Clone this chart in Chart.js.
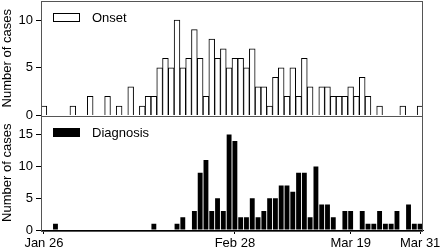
<!DOCTYPE html>
<html lang="en">
<head>
<meta charset="UTF-8">
<title>Onset and diagnosis</title>
<script src="https://cdn.jsdelivr.net/npm/chart.js"></script>
<style>
  html, body { margin: 0; padding: 0; overflow: hidden; background: #fff; }
  #wrap { width: 460px; height: 250px; }
</style>
</head>
<body>
<div id="wrap"><canvas id="chart"></canvas></div>
<script>
// one category per day, Jan 26 .. Mar 31 (Feb has 29 days here)
const months = [['Jan', 26, 31], ['Feb', 1, 29], ['Mar', 1, 31]];
const days = [];
months.forEach(([m, from, to]) => {
    for (let d = from; d <= to; d++) days.push(m + ' ' + d);
});

const tickLabels = ['Jan 26', 'Feb 28', 'Mar 19', 'Mar 31'];

const onset = [1,0,0,0,0,1,0,0,2,0, 0,2,0,1,0,3,0,1,2,2,
               5,6,5,10,5,6,9,6,2,8, 6,7,5,6,6,5,7,3,3,1,
               4,5,2,5,2,6,3,0,3,3, 2,2,2,3,2,4,2,0,1,0,
               0,0,1,0,0,1];
const diagnosis = [0,0,1,0,0,0,0,0,0,0, 0,0,0,0,0,0,0,0,0,1,
                   0,0,0,1,2,0,3,9,11,3, 5,3,15,14,2,2,5,2,3,5,
                   5,7,7,6,9,9,2,10,4,4, 2,0,3,3,0,3,1,1,3,1,
                   1,3,0,4,1,1];

Chart.defaults.font.family = "'Liberation Sans', Arial, sans-serif";
Chart.defaults.font.size = 13;
Chart.defaults.color = '#000';

// frames round each panel + the little in-panel legends
const panelFrame = {
    id: 'panelFrame',
    afterDatasetsDraw(chart) {
        const {ctx, chartArea} = chart;
        ctx.save();
        ctx.strokeStyle = '#555';
        ctx.lineWidth = 1;
        ['yTop', 'yBottom'].forEach(id => {
            const s = chart.scales[id];
            ctx.strokeRect(Math.round(chartArea.left) + 0.5, Math.round(s.top) + 0.5,
                Math.round(chartArea.right - chartArea.left) - 1, Math.round(s.bottom - s.top));
        });
        chart.data.datasets.forEach(ds => {
            const s = chart.scales[ds.yAxisID];
            const x = Math.round(chartArea.left) + 12;
            const y = Math.round(s.top) + 12;
            ctx.fillStyle = ds.backgroundColor;
            ctx.fillRect(x, y, 27, 9);
            ctx.strokeStyle = '#000';
            ctx.strokeRect(x + 0.5, y + 0.5, 26, 8);
            ctx.fillStyle = '#000';
            ctx.font = "13px 'Liberation Sans', Arial, sans-serif";
            ctx.textBaseline = 'middle';
            ctx.fillText(ds.label, x + 39, y + 5);
        });
        ctx.restore();
    }
};

const yAxis = max => ({
    type: 'linear',
    position: 'left',
    stack: 'panels',
    stackWeight: 1,
    min: 0,
    max: max,
    ticks: { stepSize: 5, includeBounds: false, padding: 3 },
    grid: { drawOnChartArea: false, tickLength: 5, tickColor: '#000' },
    border: { color: '#000' },
    title: { display: true, text: 'Number of cases', padding: { top: 0, bottom: 0 } },
    afterFit: s => { s.width = 41; s.paddingTop = 0; s.paddingBottom = 0; }
});

new Chart('chart', {
    type: 'bar',
    data: {
        labels: days,
        datasets: [{
            label: 'Onset',
            data: onset,
            yAxisID: 'yTop',
            backgroundColor: '#fff',
            borderColor: '#000',
            borderWidth: 1,
            grouped: false,
            barPercentage: 1,
            categoryPercentage: 1
        }, {
            label: 'Diagnosis',
            data: diagnosis,
            yAxisID: 'yBottom',
            backgroundColor: '#000',
            grouped: false,
            barPercentage: 0.84,
            categoryPercentage: 1
        }]
    },
    options: {
        responsive: true,
        maintainAspectRatio: false,
        animation: false,
        layout: { padding: { top: 1, right: 37, left: 0, bottom: 0 } },
        plugins: { legend: { display: false }, tooltip: { enabled: false } },
        scales: {
            x: {
                grid: {
                    offset: false,
                    drawOnChartArea: false,
                    tickLength: 4,
                    tickColor: ctx => tickLabels.includes(days[ctx.index]) ? '#000' : 'rgba(0,0,0,0)'
                },
                border: { color: '#000' },
                ticks: {
                    autoSkip: false,
                    maxRotation: 0,
                    padding: 2,
                    callback: (v, i) => tickLabels.includes(days[i]) ? days[i] : ''
                },
                afterFit: s => { s.height = 20; s.paddingLeft = 0; s.paddingRight = 0; }
            },
            // stacked axes are placed bottom-up in definition order
            yBottom: yAxis(18),
            yTop: yAxis(12)
        }
    },
    plugins: [panelFrame]
});
</script>
</body>
</html>
